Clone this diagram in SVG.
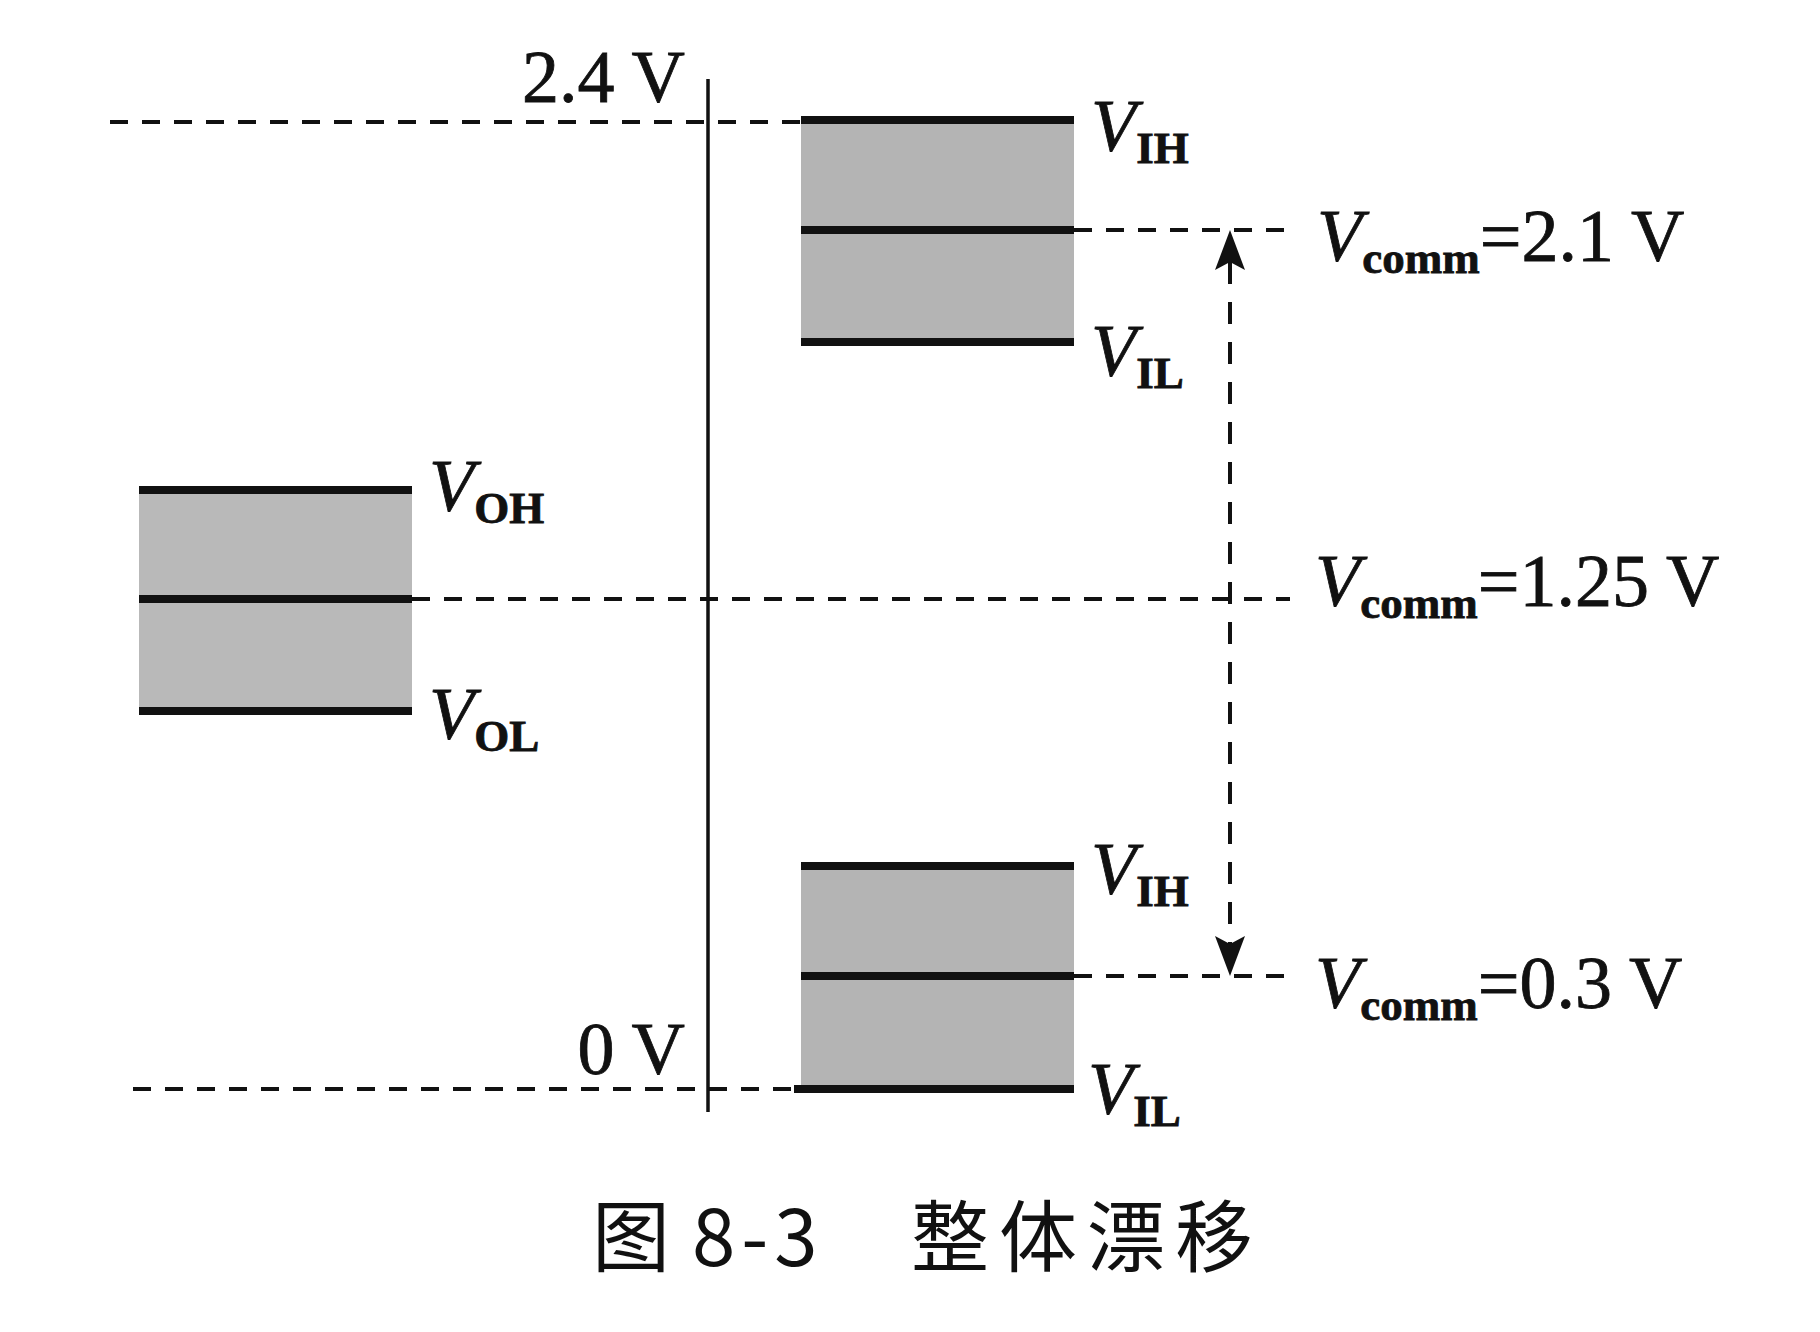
<svg xmlns="http://www.w3.org/2000/svg" width="1820" height="1332" viewBox="0 0 1820 1332">
<style>
.bg{fill:#ffffff}
.fill{fill:#b9b9b9}
.fill2{fill:#b4b4b4}
.thick{stroke:#111;stroke-width:8;fill:none}
.axis{stroke:#111;stroke-width:3.5;fill:none}
.dash{stroke:#111;stroke-width:4;fill:none;stroke-dasharray:18 14}
.vdash{stroke:#111;stroke-width:4;fill:none;stroke-dasharray:22 18}
.head{fill:#111}
.v{font-family:"Liberation Serif","Times New Roman",serif;font-size:74px;font-style:italic;fill:#111;stroke:#111;stroke-width:0.8}
.sub{font-family:"Liberation Serif","Times New Roman",serif;font-size:45px;font-style:normal;font-weight:bold}
.rest{font-style:normal;font-size:74px;font-weight:normal}
.num{font-family:"Liberation Serif","Times New Roman",serif;font-size:74px;fill:#111;stroke:#111;stroke-width:0.8}
.cap{font-family:"Noto Sans CJK SC","Noto Sans",sans-serif;font-size:78px;fill:#111}
</style>
<rect class="bg" x="0" y="0" width="1820" height="1332"/>

<g id="connectors">
  <line class="dash" x1="110" y1="122" x2="801" y2="122"/>
  <line class="dash" x1="1074" y1="230" x2="1290" y2="230"/>
  <line class="dash" x1="412" y1="599" x2="1290" y2="599"/>
  <line class="dash" x1="1074" y1="976" x2="1290" y2="976"/>
  <line class="dash" x1="133" y1="1089" x2="801" y2="1089"/>
  <line class="vdash" x1="1230" y1="262" x2="1230" y2="944"/>
  <path class="head" d="M1230,230 L1245,270 L1230,262 L1215,270 Z"/>
  <path class="head" d="M1230,976 L1245,936 L1230,944 L1215,936 Z"/>
</g>

<g id="axis">
  <line class="axis" x1="708" y1="79" x2="708" y2="1112"/>
  <text class="num" x="685" y="102" text-anchor="end">2.4 V</text>
  <text class="num" x="685" y="1074" text-anchor="end">0 V</text>
</g>

<g id="box-top">
  <rect class="fill2" x="801" y="120" width="273" height="222"/>
  <line class="thick" x1="801" y1="120" x2="1074" y2="120"/>
  <line class="thick" x1="801" y1="230" x2="1074" y2="230"/>
  <line class="thick" x1="801" y1="342" x2="1074" y2="342"/>
  <text class="v" x="1091" y="151">V<tspan class="sub" dy="12">IH</tspan></text>
  <text class="v" x="1091" y="376">V<tspan class="sub" dy="12">IL</tspan></text>
</g>

<g id="box-left">
  <rect class="fill" x="139" y="490" width="273" height="221"/>
  <line class="thick" x1="139" y1="490" x2="412" y2="490"/>
  <line class="thick" x1="139" y1="599" x2="412" y2="599"/>
  <line class="thick" x1="139" y1="711" x2="412" y2="711"/>
  <text class="v" x="429" y="511">V<tspan class="sub" dy="12">OH</tspan></text>
  <text class="v" x="429" y="739">V<tspan class="sub" dy="12">OL</tspan></text>
</g>

<g id="box-bottom">
  <rect class="fill2" x="801" y="866" width="273" height="223"/>
  <line class="thick" x1="801" y1="866" x2="1074" y2="866"/>
  <line class="thick" x1="801" y1="976" x2="1074" y2="976"/>
  <line class="thick" x1="794" y1="1089" x2="1074" y2="1089"/>
  <text class="v" x="1091" y="894">V<tspan class="sub" dy="12">IH</tspan></text>
  <text class="v" x="1088" y="1114">V<tspan class="sub" dy="12">IL</tspan></text>
</g>

<g id="labels">
  <text class="v" x="1317" y="261">V<tspan class="sub" dy="12">comm</tspan><tspan class="rest" dy="-12">=2.1 V</tspan></text>
  <text class="v" x="1315" y="606">V<tspan class="sub" dy="12">comm</tspan><tspan class="rest" dy="-12">=1.25 V</tspan></text>
  <text class="v" x="1315" y="1008">V<tspan class="sub" dy="12">comm</tspan><tspan class="rest" dy="-12">=0.3 V</tspan></text>
</g>

<g id="caption">
  <text class="cap" y="1266"><tspan x="592">图</tspan> <tspan x="692" letter-spacing="6">8-3</tspan> <tspan x="911" letter-spacing="10">整体漂移</tspan></text>
</g>
</svg>
